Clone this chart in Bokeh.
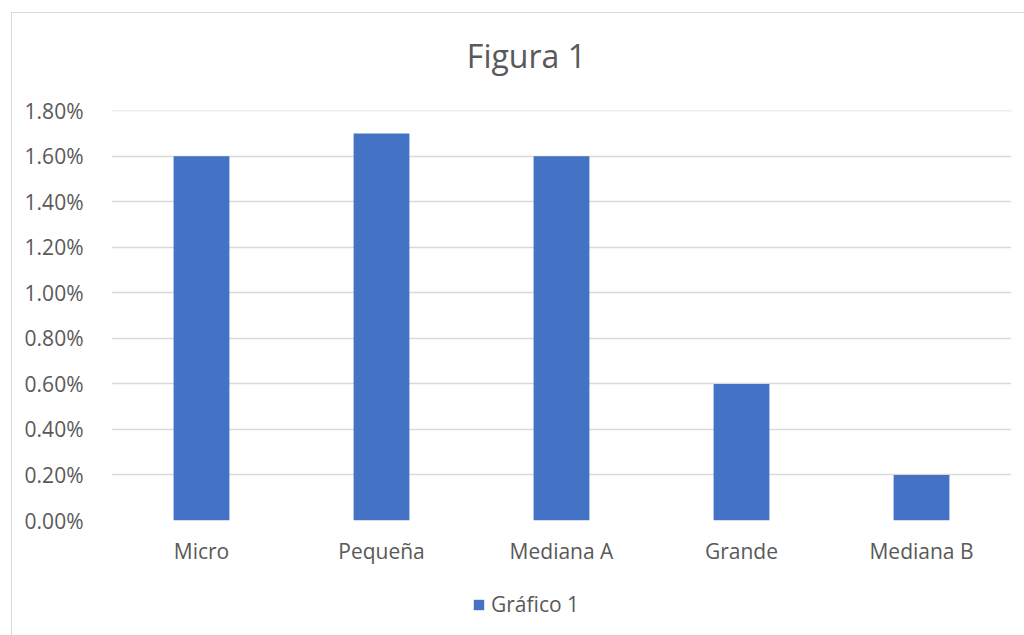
from bokeh.plotting import figure
from bokeh.layouts import column
from bokeh.models import (ColumnDataSource, Range1d, NumeralTickFormatter, FixedTicker,
                          Legend, LegendItem, Label)
from bokeh.embed import file_html
from bokeh.resources import INLINE

categories = ["Micro", "Pequeña", "Mediana A", "Grande", "Mediana B"]
values = [0.016, 0.017, 0.016, 0.006, 0.002]
y_ticks = [0.0, 0.002, 0.004, 0.006, 0.008, 0.010, 0.012, 0.014, 0.016, 0.018]
series_name = "Gráfico 1"
title_text = "Figura 1"

FONT = "Open Sans"
TXT = "#595959"
BAR = "#4472C4"
GRID = "#d9d9d9"

W = 1013
H_TOP, H_MAIN, H_LEG = 80, 483, 60


def strip(h):
    f = figure(x_range=Range1d(0, W), y_range=Range1d(0, h), width=W, height=h,
               output_backend="svg", toolbar_location=None, tools="",
               x_axis_location=None, y_axis_location=None,
               min_border=0, min_border_left=0, min_border_right=0,
               min_border_top=0, min_border_bottom=0)
    f.grid.visible = False
    f.outline_line_color = None
    return f


# title strip
tp = strip(H_TOP)
tp.add_layout(Label(x=467, y=H_TOP - 42, text=title_text, text_font=FONT, text_font_size="32px",
                    text_color=TXT, text_align="center", text_baseline="middle"))

# main chart
p = figure(x_range=categories, y_range=Range1d(0, 0.01801), width=W, height=H_MAIN,
           output_backend="svg", toolbar_location=None, tools="",
           min_border_left=99, min_border_right=14, min_border_top=17, min_border_bottom=56)
p.outline_line_color = None

src = ColumnDataSource(dict(cat=categories, val=values))
r = p.vbar(x="cat", top="val", width=0.31, source=src, fill_color=BAR, line_color=None)

p.yaxis.ticker = FixedTicker(ticks=y_ticks)
p.yaxis.formatter = NumeralTickFormatter(format="0.00%")
for ax in (p.xaxis, p.yaxis):
    ax.axis_line_color = None
    ax.major_tick_line_color = None
    ax.minor_tick_line_color = None
    ax.major_label_text_font = FONT
    ax.major_label_text_font_size = "21px"
    ax.major_label_text_color = TXT
p.yaxis.major_label_standoff = 22
p.xaxis.major_label_standoff = 10
p.xgrid.grid_line_color = None
p.ygrid.grid_line_color = GRID
p.ygrid.grid_line_width = 1.5

# legend strip below the chart
lg = strip(H_LEG)
key_src = ColumnDataSource(dict(x=[float("nan")], top=[float("nan")]))
key = lg.vbar(x="x", top="top", width=1, source=key_src, fill_color=BAR, line_color=None)
legend = Legend(items=[LegendItem(label=series_name, renderers=[key])], location=(361, 18),
                orientation="horizontal", padding=0, margin=0, spacing=0,
                glyph_width=13, glyph_height=13, label_standoff=6,
                label_text_font=FONT, label_text_font_size="21px", label_text_color=TXT,
                border_line_color=None, background_fill_alpha=0)
lg.add_layout(legend)

layout = column(tp, p, lg, spacing=0)
layout.margin = (12, 0, 0, 11)
layout.styles = {"border-left": "1px solid #d9d9d9", "border-top": "1px solid #d9d9d9"}

html = file_html(layout, INLINE)
html = html.replace("</head>", "<style>html,body{margin:0;overflow:hidden}</style></head>", 1)
open("out.html", "w").write(html)
